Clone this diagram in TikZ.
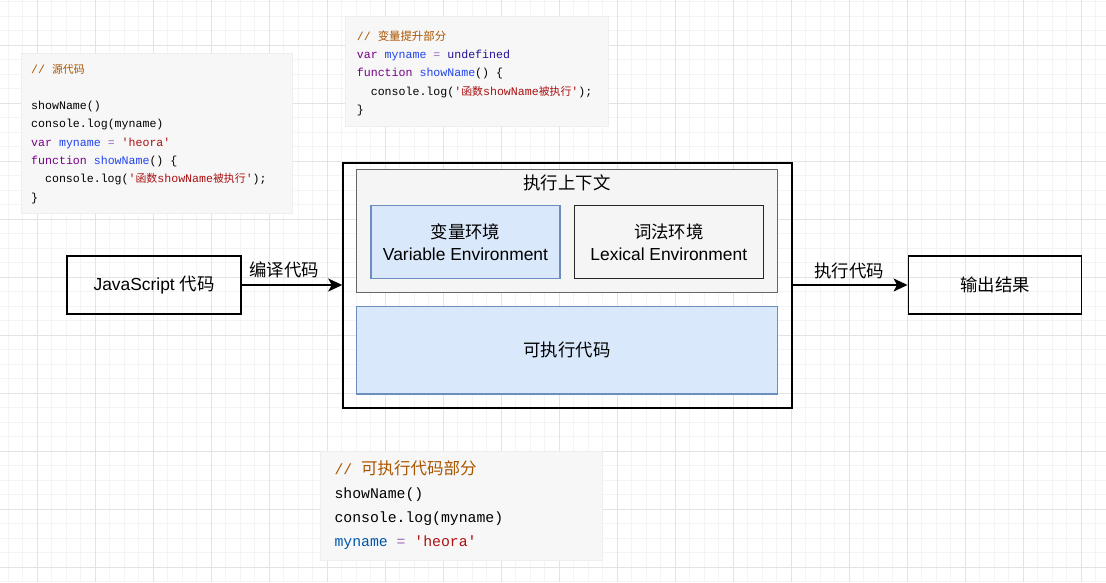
\documentclass[tikz,border=0pt]{standalone}
\usepackage{fontspec}
\setmainfont{Liberation Sans}
\setmonofont{Liberation Mono}
\newfontfamily\cjk{Noto Sans CJK SC}
\usetikzlibrary{arrows.meta}
\definecolor{cmt}{HTML}{AA5500}
\definecolor{kw}{HTML}{770088}
\definecolor{df}{HTML}{2244EE}
\definecolor{str}{HTML}{AA1111}
\definecolor{atm}{HTML}{221199}
\definecolor{vtwo}{HTML}{0055AA}
\definecolor{op}{HTML}{9A6AB8}
\definecolor{gridminor}{HTML}{F4F4F4}
\definecolor{gridmajor}{HTML}{E3E3E3}
\definecolor{codebg}{HTML}{F7F7F7}
\definecolor{codeedge}{HTML}{EEEEEE}
\definecolor{ctxfill}{HTML}{F5F5F5}
\definecolor{ctxedge}{HTML}{666666}
\definecolor{bluefill}{HTML}{DAE8FC}
\definecolor{blueedge}{HTML}{6C8EBF}
\newcommand\cA{\ttfamily\fontsize{11.6}{14}\selectfont}
\newcommand\cC{\ttfamily\fontsize{14.8}{18}\selectfont}
\newcommand\zhA[1]{{\cjk\fontsize{10.9}{14}\selectfont #1}}
\newcommand\zhB[1]{{\cjk\fontsize{11.4}{14}\selectfont #1}}
\newcommand\zhC[1]{{\cjk\fontsize{16.5}{18}\selectfont #1}}
\newcommand\lbl{\fontsize{17.4}{21.7}\selectfont}
\begin{document}
\begin{tikzpicture}[x=1pt,y=-1pt,
  minorline/.style={draw=gridminor,line width=0.8pt},
  majorline/.style={draw=gridmajor,line width=0.9pt},
  box/.style={draw=black,line width=1.5pt,minimum width=#1,inner sep=0pt,font=\lbl,align=center},
  codebox/.style={fill=codebg,draw=codeedge,line width=0.8pt},
  codeA/.style={anchor=base west,inner sep=0pt,font=\cA},
  codeC/.style={anchor=base west,inner sep=0pt,font=\cC},
  arr/.style={draw=black,line width=1.5pt,-{Stealth[length=14pt,width=13pt,inset=3.5pt]}},
  lab/.style={inner sep=0pt,font=\lbl}]
\useasboundingbox (0,0) rectangle (1106,582);
\fill[white] (0,0) rectangle (1106,582);
\begin{scope}
\clip (0,0) rectangle (1106,582);
\foreach \i in {0,...,76} {\draw[minorline] ({8.3+14.5*\i},0) -- ++(0,582);}
\foreach \i in {0,...,40} {\draw[minorline] (0,{1.5+14.5*\i}) -- ++(1106,0);}
\foreach \i in {0,...,18} {\draw[majorline] ({37.3+58*\i},0) -- ++(0,582);}
\foreach \i in {0,...,9} {\draw[majorline] (0,{45+58*\i}) -- ++(1106,0);}
\end{scope}

% code blocks
\path[codebox] (21.7,53.3) rectangle (292.3,213);
\node[codeA] (s1) at (31,73) {\textcolor{cmt}{// \zhA{源代码}}};
\node[codeA] (s3) at (31,109.6) {showName()};
\node[codeA] (s4) at (31,127.9) {console.log(myname)};
\node[codeA] (s5) at (31,146.2) {\textcolor{kw}{var} \textcolor{df}{myname} \textcolor{op}{=} \textcolor{str}{'heora'}};
\node[codeA] (s6) at (31,164.5) {\textcolor{kw}{function} \textcolor{df}{showName}() \{};
\node[codeA] (s7) at (44.9,182.8) {console.log(\textcolor{str}{'\zhA{函数}showName\zhA{被执行}'});};
\node[codeA] (s8) at (31,201.1) {\}};

\path[codebox] (345,16.7) rectangle (608,126.7);
\node[codeA] (h1) at (356.7,40) {\textcolor{cmt}{// \zhB{变量提升部分}}};
\node[codeA] (h2) at (356.7,58.4) {\textcolor{kw}{var} \textcolor{df}{myname} \textcolor{op}{=} \textcolor{atm}{undefined}};
\node[codeA] (h3) at (356.7,76.8) {\textcolor{kw}{function} \textcolor{df}{showName}() \{};
\node[codeA] (h4) at (370.6,95.2) {console.log(\textcolor{str}{'\zhA{函数}showName\zhA{被执行}'});};
\node[codeA] (h5) at (356.7,113.6) {\}};

\path[codebox] (320.7,451.7) rectangle (602,560.7);
\node[codeC] (e1) at (334.3,474.3) {\textcolor{cmt}{// \zhC{可执行代码部分}}};
\node[codeC] (e2) at (334.3,498.5) {showName()};
\node[codeC] (e3) at (334.3,522.7) {console.log(myname)};
\node[codeC] (e4) at (334.3,546.9) {\textcolor{vtwo}{myname} \textcolor{op}{=} \textcolor{str}{'heora'}};

% main boxes
\node[box=174pt,minimum height=58pt] (js) at (154,285) {JavaScript {\cjk 代码}};
\node[box=173.4pt,minimum height=58pt] (out) at (995,285) {{\cjk 输出结果}};
\node[box=449pt,minimum height=245pt] (outer) at (567.5,285.5) {};
\node[draw=ctxedge,fill=ctxfill,line width=1.5pt,minimum width=420.6pt,minimum height=123pt,inner sep=0pt] (ctx) at (567,230.8) {};
\node[lab] (ctxl) at (567,183.3) {\cjk 执行上下文};
\node[box=189pt,minimum height=72.6pt,draw=blueedge,fill=bluefill] (ve) at (465.5,242) {{\cjk 变量环境}\\Variable Environment};
\node[box=189pt,minimum height=72.6pt,draw=black!85] (le) at (668.8,242) {{\cjk 词法环境}\\Lexical Environment};
\node[box=420.6pt,minimum height=87.3pt,draw=blueedge,fill=bluefill] (ec) at (567,350.35) {{\cjk 可执行代码}};

% connectors
\draw[arr] (js.east) -- (js.east -| outer.west);
\node[lab] (l1) at (284,270) {\cjk 编译代码};
\draw[arr] (out.west -| outer.east) -- (out.west);
\node[lab] (l2) at (849,270.5) {\cjk 执行代码};
\end{tikzpicture}
\end{document}
